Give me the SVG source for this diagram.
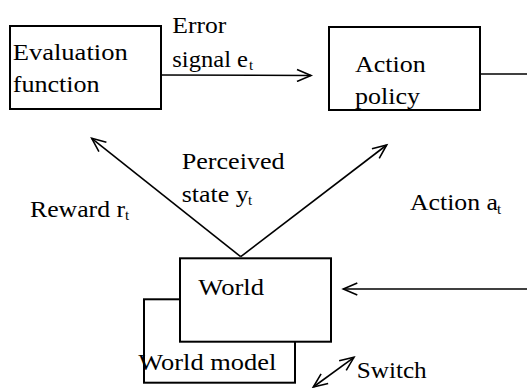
<svg xmlns="http://www.w3.org/2000/svg" width="527" height="388" viewBox="0 0 527 388">
<style>
.box{fill:#fff;stroke:#000;stroke-width:2}
.ln{fill:none;stroke:#000;stroke-width:1.6}
</style>
<defs>
<marker id="ah" markerUnits="userSpaceOnUse" markerWidth="18" markerHeight="14" refX="15" refY="7" orient="auto-start-reverse" viewBox="0 0 18 14">
<path d="M1,1 L15,7 L1,13" fill="none" stroke="#000" stroke-width="1.6"/>
</marker>
</defs>
<rect width="527" height="388" fill="#fff"/>
<g id="connectors">
<line class="ln" x1="161" y1="75" x2="311" y2="75.5" marker-end="url(#ah)"/>
<line class="ln" x1="480" y1="74" x2="527" y2="74"/>
<line class="ln" x1="240.7" y1="256.7" x2="91.7" y2="138.3" marker-end="url(#ah)"/>
<line class="ln" x1="240.7" y1="256.7" x2="386.7" y2="145" marker-end="url(#ah)"/>
<line class="ln" x1="527" y1="289" x2="343.3" y2="289" marker-end="url(#ah)"/>
<line class="ln" x1="313.3" y1="387" x2="354" y2="357.3" marker-start="url(#ah)" marker-end="url(#ah)"/>
</g>
<g id="evaluation">
<rect class="box" x="10" y="26" width="151" height="83"/>
<text style="font-family:'Liberation Serif';font-size:23px" x="12.7" y="60" textLength="115" lengthAdjust="spacingAndGlyphs">Evaluation</text>
<text style="font-family:'Liberation Serif';font-size:23px" x="12.7" y="91.7" textLength="87" lengthAdjust="spacingAndGlyphs">function</text>
</g>
<g id="error-label">
<text style="font-family:'Liberation Serif';font-size:23px" x="172.3" y="33.3" textLength="54" lengthAdjust="spacingAndGlyphs">Error</text>
<text style="font-family:'Liberation Serif';font-size:23px" x="172.3" y="66.7" textLength="75.7" lengthAdjust="spacingAndGlyphs">signal e</text>
<text style="font-family:'Liberation Serif';font-size:15px" x="249" y="70">t</text>
</g>
<g id="action-policy">
<rect class="box" x="329" y="27" width="151" height="83"/>
<text style="font-family:'Liberation Serif';font-size:23px" x="355" y="71.7" textLength="70.7" lengthAdjust="spacingAndGlyphs">Action</text>
<text style="font-family:'Liberation Serif';font-size:23px" x="355" y="104" textLength="65" lengthAdjust="spacingAndGlyphs">policy</text>
</g>
<g id="labels">
<text style="font-family:'Liberation Serif';font-size:23px" x="181.7" y="169.3" textLength="103" lengthAdjust="spacingAndGlyphs">Perceived</text>
<text style="font-family:'Liberation Serif';font-size:23px" x="181.7" y="201.7" textLength="67" lengthAdjust="spacingAndGlyphs">state y</text>
<text style="font-family:'Liberation Serif';font-size:15px" x="248" y="205">t</text>
<text style="font-family:'Liberation Serif';font-size:23px" x="30" y="216.7" textLength="95" lengthAdjust="spacingAndGlyphs">Reward r</text>
<text style="font-family:'Liberation Serif';font-size:15px" x="125" y="220">t</text>
<text style="font-family:'Liberation Serif';font-size:23px" x="410" y="210" textLength="88" lengthAdjust="spacingAndGlyphs">Action a</text>
<text style="font-family:'Liberation Serif';font-size:15px" x="497" y="213.5">t</text>
</g>
<g id="world-model">
<rect class="box" x="144" y="299.3" width="151" height="83.4"/>
<text style="font-family:'Liberation Serif';font-size:23px" x="138.3" y="370" textLength="138" lengthAdjust="spacingAndGlyphs">World model</text>
</g>
<g id="world">
<rect class="box" x="180" y="258.3" width="151" height="83.4"/>
<text style="font-family:'Liberation Serif';font-size:23px" x="198.3" y="295" textLength="65.7" lengthAdjust="spacingAndGlyphs">World</text>
</g>
<g id="switch">
<text style="font-family:'Liberation Serif';font-size:23px" x="356.7" y="377.7" textLength="70" lengthAdjust="spacingAndGlyphs">Switch</text>
</g>
</svg>
